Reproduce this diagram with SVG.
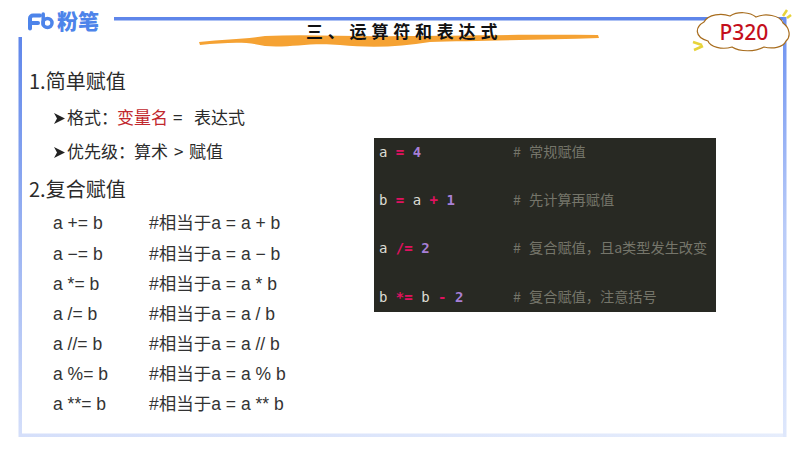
<svg xmlns="http://www.w3.org/2000/svg" width="800" height="450" viewBox="0 0 800 450">
<style>
text{font-family:"Noto Sans CJK SC","Noto Sans",sans-serif;fill:#2b2b2b}
.h{font-size:20px}
.b{font-size:17px}
.l{font-family:"Liberation Sans","Noto Sans CJK SC",sans-serif;font-size:17.500px;fill:#333}
.c{font-family:"DejaVu Sans Mono","Noto Sans CJK SC",monospace;font-size:14px;fill:#dcdcd4}
.o{fill:#e0115f;font-weight:bold}.n{fill:#a77fd6;font-weight:bold}
.g{font-family:"Noto Sans CJK SC",sans-serif;font-size:14.200px;fill:#75756a}
.ar{fill:#222}
</style>
<defs>
<linearGradient id="lf" x1="0" y1="0" x2="0" y2="1"><stop offset="0" stop-color="#5f86ea"/><stop offset="1" stop-color="#d5dffa"/></linearGradient>
<linearGradient id="bt" x1="0" y1="0" x2="1" y2="0"><stop offset="0" stop-color="#d5dffa"/><stop offset="1" stop-color="#e6edfc"/></linearGradient>
<linearGradient id="rt" x1="0" y1="0" x2="0" y2="1"><stop offset="0" stop-color="#6a8ff0"/><stop offset="0.5" stop-color="#b9cbf8"/><stop offset="1" stop-color="#dfe8fc"/></linearGradient>
</defs>
<rect width="800" height="450" fill="#fff"/>
<g id="frame">
<rect x="114" y="17" width="672" height="3.500" fill="#5f86ea"/>
<rect x="18.500" y="37" width="3.500" height="400" fill="url(#lf)"/>
<rect x="19" y="433.500" width="767" height="3.500" fill="url(#bt)"/>
<rect x="783" y="17" width="3.500" height="420" fill="url(#rt)"/>
</g>
<g id="logo">
<path d="M30 28.500V18.500a3 3 0 0 1 3-3H40M30 23H38" fill="none" stroke="#4d84ea" stroke-width="4" stroke-linecap="round"/>
<circle cx="47.500" cy="23" r="4.500" fill="none" stroke="#4d84ea" stroke-width="3.500"/>
<path d="M43.200 14V25" stroke="#4d84ea" stroke-width="3.500" stroke-linecap="round"/>
<text x="57" y="29" style="font-size:21px;font-weight:900;fill:#4d84ea">粉笔</text>
</g>
<g id="title">
<path d="M199 42C225 39 245 39 265 36C310 34 350 37 400 36C450 36 520 34 598 35L599 38C540 40 470 41 430 42C400 47 370 48 340 45C310 42 290 48 265 46C245 41 225 43 200 45Z" fill="#f5a233"/>
<text x="306" y="38" style="font-size:17px;letter-spacing:4.800px;fill:#111;font-weight:bold">三、运算符和表达式</text>
</g>
<g id="page-badge">
<path d="M704 22C708 14 722 13 730 16C738 11 750 12 756 17C765 13 780 15 783 23C790 28 791 37 786 41C783 48 772 49 764 47C755 52 740 52 732 47C722 50 710 47 708 41C694 37 695 27 704 22Z" fill="#fff" stroke="#a86d1e" stroke-width="1.200"/>
<path d="M783 16L787 10M787 18L791 15M693 42L702 45M694 50L703 46" stroke="#e7d33a" stroke-width="2.500"/>
<text x="719.500" y="39.500" style="font-family:'Noto Sans','Noto Sans CJK SC',sans-serif;font-size:21px;font-weight:500;fill:#c40f1c">P320</text>
</g>
<g id="notes">
<text class="h" x="29" y="88.500">1.简单赋值</text>
<path class="ar" d="M54 113L65 118.500L54 124L57 118.500Z"/>
<text class="b" x="67" y="124">格式：</text>
<text class="b" x="117" y="124" style="fill:#c1272d">变量名</text>
<text class="b" x="173" y="124">=</text>
<text class="b" x="194" y="124">表达式</text>
<path class="ar" d="M54 147L65 152.500L54 158L57 152.500Z"/>
<text class="b" x="67" y="158">优先级：</text>
<text class="b" x="134" y="158">算术</text>
<text class="b" x="174" y="158">&gt;</text>
<text class="b" x="189" y="158">赋值</text>
<text class="h" x="29" y="197">2.复合赋值</text>
<text class="l" x="53" y="229">a += b</text><text class="l" x="149" y="229">#相当于a = a + b</text>
<text class="l" x="53" y="260">a −= b</text><text class="l" x="149" y="260">#相当于a = a − b</text>
<text class="l" x="53" y="290">a *= b</text><text class="l" x="149" y="290">#相当于a = a * b</text>
<text class="l" x="53" y="320">a /= b</text><text class="l" x="149" y="320">#相当于a = a / b</text>
<text class="l" x="53" y="350">a //= b</text><text class="l" x="149" y="350">#相当于a = a // b</text>
<text class="l" x="53" y="380">a %= b</text><text class="l" x="149" y="380">#相当于a = a % b</text>
<text class="l" x="53" y="410">a **= b</text><text class="l" x="149" y="410">#相当于a = a ** b</text>
</g>
<g id="code">
<rect x="374" y="138" width="342" height="174" fill="#282923"/>
<text class="c" x="379" y="157">a <tspan class="o">=</tspan> <tspan class="n">4</tspan></text>
<text class="c" x="379" y="205">b <tspan class="o">=</tspan> a <tspan class="o">+</tspan> <tspan class="n">1</tspan></text>
<text class="c" x="379" y="253">a <tspan class="o">/=</tspan> <tspan class="n">2</tspan></text>
<text class="c" x="379" y="302">b <tspan class="o">*=</tspan> b <tspan class="o">-</tspan> <tspan class="n">2</tspan></text>
<text class="g" x="513" y="157">#</text><text class="g" x="529" y="157">常规赋值</text>
<text class="g" x="513" y="205">#</text><text class="g" x="529" y="205">先计算再赋值</text>
<text class="g" x="513" y="253">#</text><text class="g" x="529" y="253">复合赋值，且a类型发生改变</text>
<text class="g" x="513" y="302">#</text><text class="g" x="529" y="302">复合赋值，注意括号</text>
</g>
</svg>
